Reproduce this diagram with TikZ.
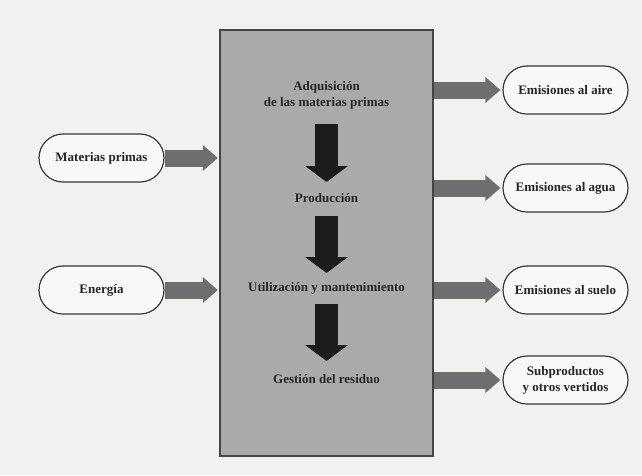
\documentclass[tikz,border=0pt]{standalone}
\usepackage{fontspec}
\setmainfont{Liberation Serif}
\usetikzlibrary{arrows.meta,shapes.misc}
\definecolor{bg}{HTML}{F1F1EF}
\definecolor{boxgray}{HTML}{AAAAAA}
\definecolor{boxline}{HTML}{454545}
\definecolor{pillfill}{HTML}{F8F8F6}
\definecolor{pillline}{HTML}{3A3A3A}
\definecolor{sidegray}{HTML}{6E6E6E}
\definecolor{darkarrow}{HTML}{1C1C1C}
\definecolor{txt}{HTML}{262626}
\begin{document}
\begin{tikzpicture}[x=1pt,y=-1pt,
  lbl/.style={font=\fontsize{13}{16}\selectfont\bfseries, text=txt, align=center, inner sep=1pt},
  pill/.style={rounded rectangle, draw=pillline, line width=1.2pt, fill=pillfill,
    minimum width=127pt, minimum height=48pt, inner sep=0pt, lbl},
  sidearrow/.style={draw=sidegray, line width=17pt,
    -{Triangle[width=25pt,length=15pt]}},
  downarrow/.style={draw=darkarrow, line width=23pt,
    -{Triangle[width=42pt,length=16pt]}}
]
\fill[bg] (0,0) rectangle (642,475);
\useasboundingbox (0,0) rectangle (642,475);

\node[draw=boxline, fill=boxgray, line width=1.4pt, minimum width=213pt,
  minimum height=426pt, inner sep=0pt] (box) at (326.5,243) {};

\node[lbl] (t1) at (326.5,95) {Adquisición\\de las materias primas};
\node[lbl] (t2) at (326.5,198) {Producción};
\node[lbl] (t3) at (326.5,288) {Utilización y mantenimiento};
\node[lbl] (t4) at (326.5,379) {Gestión del residuo};

\coordinate (a1s) at (326.5,124); \coordinate (a1e) at (326.5,182);
\coordinate (a2s) at (326.5,216); \coordinate (a2e) at (326.5,273);
\coordinate (a3s) at (326.5,304); \coordinate (a3e) at (326.5,361);
\draw[downarrow] (a1s) -- (a1e);
\draw[downarrow] (a2s) -- (a2e);
\draw[downarrow] (a3s) -- (a3e);

\node[pill] (mp) at (101.5,158) {Materias primas};
\node[pill] (en) at (101.5,290) {Energía};

\node[pill] (ea) at (565.5,90) {Emisiones al aire};
\node[pill] (eg) at (565.5,188) {Emisiones al agua};
\node[pill] (es) at (565.5,290) {Emisiones al suelo};
\node[pill] (sv) at (565.5,380) {Subproductos\\y otros vertidos};

\draw[sidearrow] (mp.east) -- ([xshift=-1.5pt]box.west |- mp.east);
\draw[sidearrow] (en.east) -- ([xshift=-1.5pt]box.west |- en.east);
\draw[sidearrow] (box.east |- ea.west) -- ([xshift=-2pt]ea.west);
\draw[sidearrow] (box.east |- eg.west) -- ([xshift=-2pt]eg.west);
\draw[sidearrow] (box.east |- es.west) -- ([xshift=-2pt]es.west);
\draw[sidearrow] (box.east |- sv.west) -- ([xshift=-2pt]sv.west);
\end{tikzpicture}
\end{document}
